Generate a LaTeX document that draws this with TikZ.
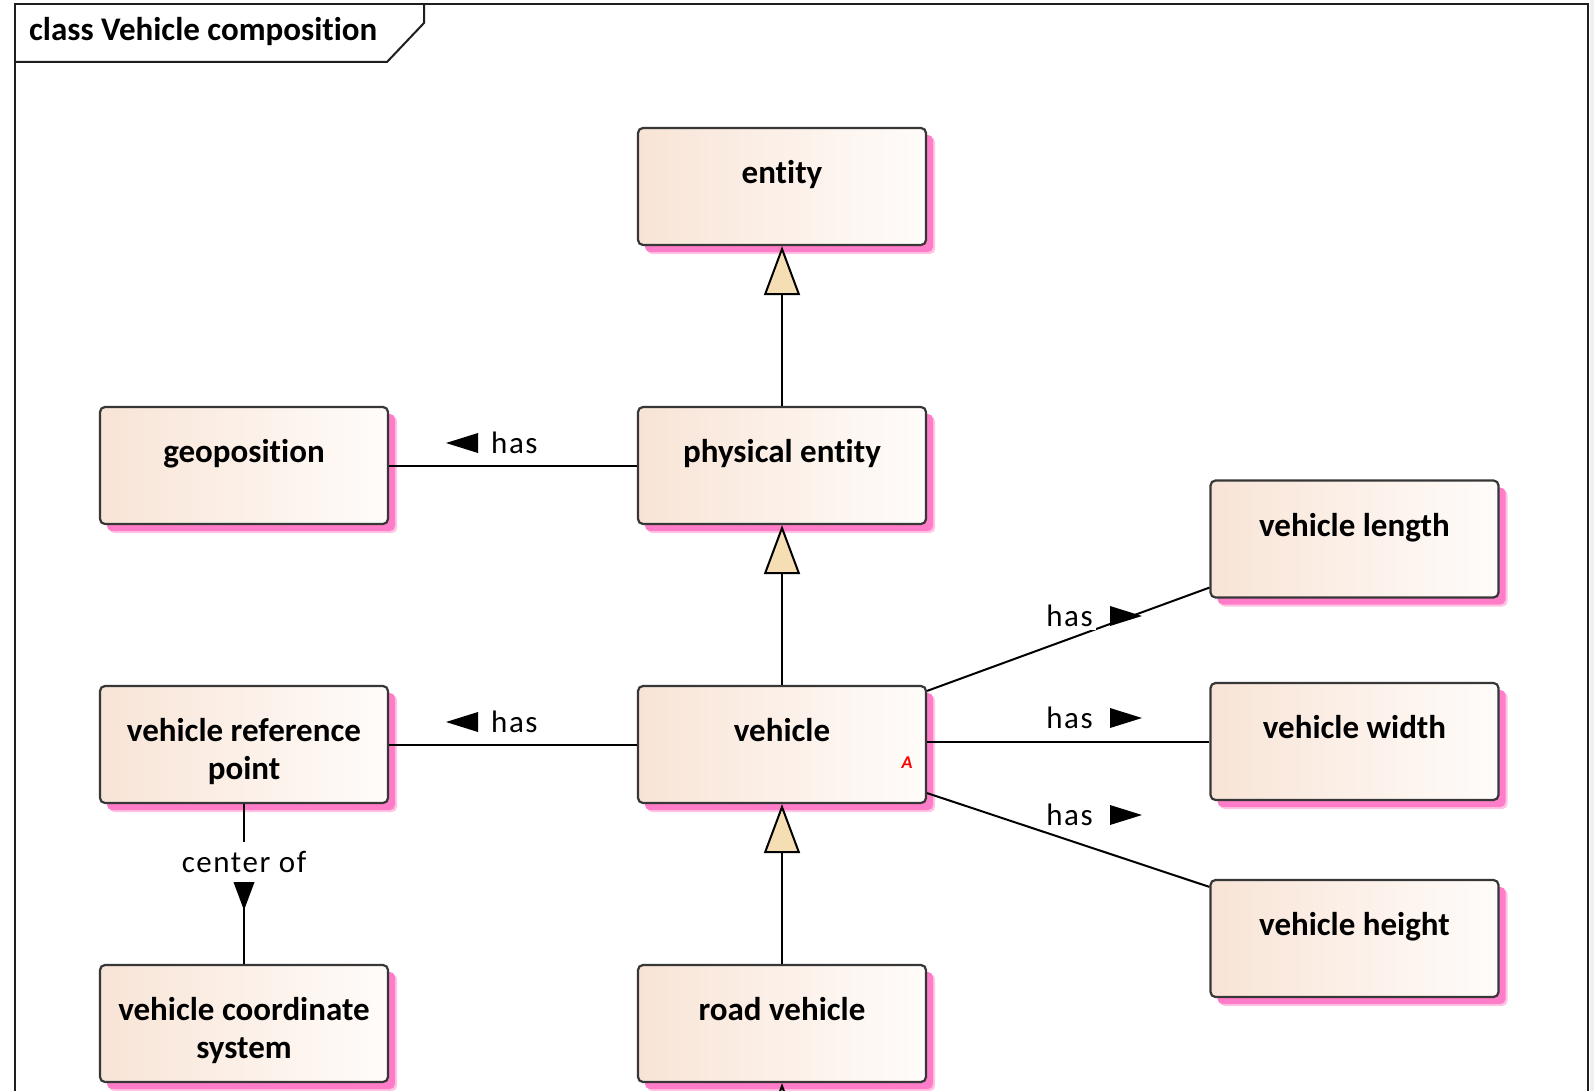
\documentclass[tikz,border=0pt]{standalone}
\usepackage{fontspec}
\setmainfont[Ligatures=NoCommon]{Carlito}
\newfontfamily\lblfont[LetterSpace=5,Ligatures=NoCommon]{Carlito}
\usetikzlibrary{arrows.meta,shadows}

\definecolor{boxL}{RGB}{248,228,214}
\definecolor{boxR}{RGB}{255,252,250}
\definecolor{boxline}{RGB}{55,55,55}
\definecolor{shadowpink}{RGB}{255,125,200}
\definecolor{shadowsoft}{RGB}{255,195,228}
\definecolor{genfill}{RGB}{246,222,180}
\definecolor{outside}{RGB}{240,240,240}
\definecolor{frameline}{RGB}{30,30,30}

\tikzset{
  classbox/.style={draw=boxline, line width=2.2pt, rounded corners=5pt,
    left color=boxL, right color=boxR,
    minimum width=288pt, minimum height=117pt, inner sep=0pt,
    drop shadow={shadow xshift=9pt, shadow yshift=-9pt, fill=shadowsoft, opacity=1},
    drop shadow={shadow xshift=7pt, shadow yshift=-7pt, fill=shadowpink, opacity=1}},
  classtitle/.style={font=\fontsize{33pt}{38pt}\selectfont\bfseries,
    anchor=base, align=center, inner sep=0pt},
  assoclabel/.style={font=\lblfont\fontsize{31pt}{36pt}\selectfont,
    fill=white, inner xsep=3pt, inner ysep=3pt},
  conn/.style={draw=black, line width=2pt},
  gen/.style={conn, -{Triangle[width=36pt,length=49pt,fill=genfill]}},
  frame/.style={draw=frameline, line width=2.5pt},
}

\begin{document}
\begin{tikzpicture}[x=1pt,y=-1pt]
  % canvas and diagram frame
  \fill[white] (0,0) rectangle (1594,1091);
  \fill[outside] (1590,0) rectangle (1594,1091);
  \useasboundingbox (0,0) rectangle (1594,1091);
  \draw[frame] (15,1110) -- (15,4) -- (1588,4) -- (1588,1110);
  \draw[frame, line width=2pt] (15,62) -- (387,62) -- (424,23) -- (424,4);
  \node[font=\fontsize{33pt}{38pt}\selectfont\bfseries, anchor=base west, inner sep=0pt]
    (frametitle) at (29,41) {class Vehicle composition};

  % classes
  \node[classbox] (entity)   at (782,186.5)  {};
  \node[classbox] (physent)  at (782,465.5)  {};
  \node[classbox] (geo)      at (244,465.5)  {};
  \node[classbox] (vehicle)  at (782,744.5)  {};
  \node[classbox] (vrp)      at (244,744.5)  {};
  \node[classbox] (vcs)      at (244,1023.5) {};
  \node[classbox] (road)     at (782,1023.5) {};
  \node[classbox] (vlength)  at (1354.5,539)   {};
  \node[classbox] (vwidth)   at (1354.5,741.5) {};
  \node[classbox] (vheight)  at (1354.5,938.5) {};

  % class names (base anchor sits on the last line)
  \node[classtitle] (entity-t)  at ([yshift=-57pt]entity.north)  {entity};
  \node[classtitle] (physent-t) at ([yshift=-57pt]physent.north) {physical entity};
  \node[classtitle] (geo-t)     at ([yshift=-57pt]geo.north)     {geoposition};
  \node[classtitle] (vehicle-t) at ([yshift=-57pt]vehicle.north) {vehicle};
  \node[classtitle] (vrp-t)     at ([yshift=-95pt]vrp.north)     {vehicle reference\\point};
  \node[classtitle] (vcs-t)     at ([yshift=-95pt]vcs.north)     {vehicle coordinate\\system};
  \node[classtitle] (road-t)    at ([yshift=-57pt]road.north)    {road vehicle};
  \node[classtitle] (vlength-t) at ([yshift=-57pt]vlength.north) {vehicle length};
  \node[classtitle] (vwidth-t)  at ([yshift=-57pt]vwidth.north)  {vehicle width};
  \node[classtitle] (vheight-t) at ([yshift=-57pt]vheight.north) {vehicle height};
  \node[font=\fontsize{18pt}{18pt}\selectfont\bfseries\itshape, text=red, inner sep=0pt]
    (abstract-mark) at (907,763) {A};

  % generalizations
  \draw[gen] (physent.north) -- (entity.south);
  \draw[gen] (vehicle.north) -- (physent.south);
  \draw[gen] (road.north) -- (vehicle.south);
  \coordinate (subclass) at (782,1200);
  \draw[gen] (subclass) -- (road.south);

  % associations
  \draw[conn] (geo.east) -- (physent.west);
  \draw[conn] (vrp.east) -- (vehicle.west);
  \draw[conn] (vrp.south) -- (vcs.north);
  \draw[conn] ([yshift=-6pt]vehicle.north east) -- ([yshift=11pt]vlength.south west);
  \draw[conn] (vehicle.east |- vwidth.west) -- (vwidth.west);
  \draw[conn] ([yshift=11pt]vehicle.south east) -- ([yshift=-8pt]vheight.north west);

  % association labels with direction marks
  \node[assoclabel, anchor=west] (geo-has) at (488,443) {has};
  \fill ([xshift=-10pt]geo-has.west) -- ++(0,-10) -- ++(-32,10) -- ++(32,10) -- cycle;
  \node[assoclabel, anchor=west] (vrp-has) at (488,722) {has};
  \fill ([xshift=-10pt]vrp-has.west) -- ++(0,-10) -- ++(-32,10) -- ++(32,10) -- cycle;

  \node[assoclabel, anchor=east] (len-has) at (1096,616) {has};
  \fill ([xshift=14pt]len-has.east) -- ++(0,-10) -- ++(32,10) -- ++(-32,10) -- cycle;
  \node[assoclabel, anchor=east] (wid-has) at (1096,718) {has};
  \fill ([xshift=14pt]wid-has.east) -- ++(0,-10) -- ++(32,10) -- ++(-32,10) -- cycle;
  \node[assoclabel, anchor=east] (hgt-has) at (1096,815) {has};
  \fill ([xshift=14pt]hgt-has.east) -- ++(0,-10) -- ++(32,10) -- ++(-32,10) -- cycle;

  \node[assoclabel, minimum height=40pt] (center-of) at (244,862) {center of};
  \fill ([xshift=-10.5pt]center-of.south) -- ++(21,0) -- ++(-10.5,28) -- cycle;
\end{tikzpicture}
\end{document}
